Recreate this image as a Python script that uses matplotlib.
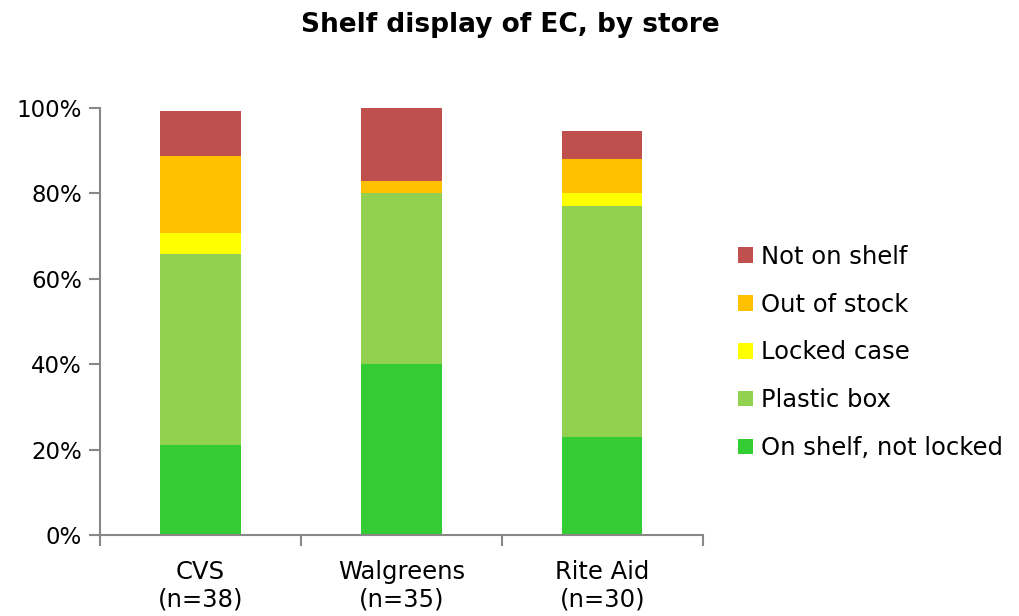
import numpy as np, matplotlib
matplotlib.use('Agg'); import matplotlib.pyplot as plt
from matplotlib.ticker import FuncFormatter

stores=['CVS\n(n=38)','Walgreens\n(n=35)','Rite Aid\n(n=30)']
series=['On shelf, not locked','Plastic box','Locked case','Out of stock','Not on shelf']
on_shelf=[21.0,40.0,23.0]
plastic=[44.7,40.0,54.0]
locked=[5.1,0.0,3.0]
out_stock=[17.9,3.0,8.0]
not_shelf=[10.5,17.0,6.5]
colors=['#33cc33','#92d050','#ffff00','#ffc000','#c0504d']

plt.rcParams['font.family']=['DejaVu Sans']
fig=plt.figure(figsize=(10.2,6.16),dpi=100)
ax=fig.add_axes([0.098,0.1315,0.591,0.6932])
x=np.arange(len(stores)); bot=np.zeros(len(stores))
for name,vals,c in zip(series,[on_shelf,plastic,locked,out_stock,not_shelf],colors):
    v=np.array(vals)/100
    ax.bar(x,v,0.4,bottom=bot,color=c,label=name,edgecolor='none')
    bot+=v
ax.set_xlim(-0.5,2.5); ax.set_ylim(0,1)
ax.set_yticks(np.arange(0,1.01,0.2))
ax.yaxis.set_major_formatter(FuncFormatter(lambda v,p:f'{v*100:.0f}%'))
ax.set_xticks(x); ax.set_xticklabels(stores,fontsize=17.5,linespacing=1.2)
ax.set_xticks([-0.5,0.5,1.5,2.5],minor=True)
ax.tick_params(axis='x',which='major',length=0,pad=18)
ax.tick_params(axis='x',which='minor',length=8,width=1.5,color='#888888')
ax.tick_params(axis='y',length=8,width=1.5,color='#888888',labelsize=16.5,pad=5)
for s in ['top','right']: ax.spines[s].set_visible(False)
for s in ['left','bottom']: ax.spines[s].set_color('#888888'); ax.spines[s].set_linewidth(1.5)
fig.suptitle('Shelf display of EC, by store',fontsize=19,fontweight='bold',y=0.98)
h,l=ax.get_legend_handles_labels()
fig.legend(h[::-1],l[::-1],loc='center left',bbox_to_anchor=(0.712,0.428),frameon=False,
           fontsize=17.5,handlelength=0.6,handleheight=0.6,handletextpad=0.35,labelspacing=0.98,borderpad=0)
fig.savefig('out.png',dpi=100)
